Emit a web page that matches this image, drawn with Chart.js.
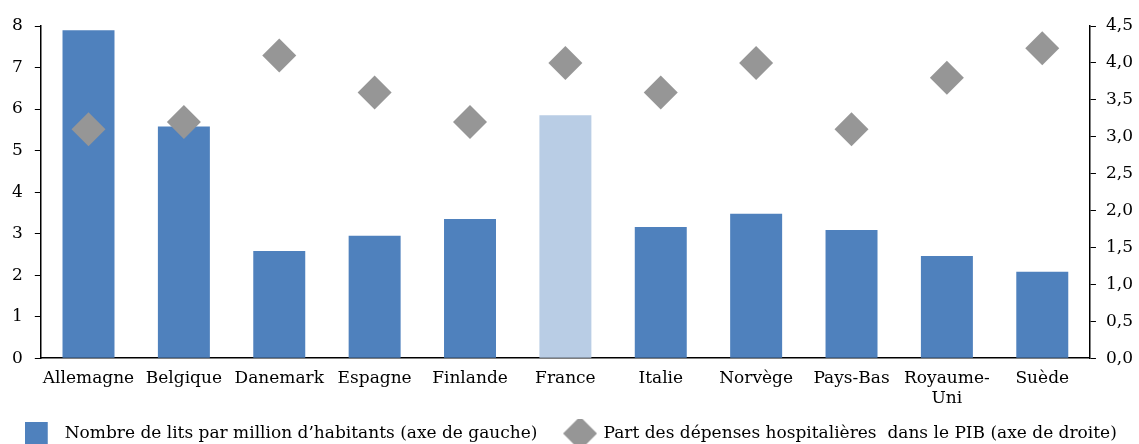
<!DOCTYPE html>
<html>
<head>
<meta charset="utf-8">
<script src="https://cdn.jsdelivr.net/npm/chart.js@4/dist/chart.umd.min.js"></script>
<style>
  html, body { margin: 0; padding: 0; background: #fff; overflow: hidden; }
  #wrap { width: 1139px; height: 452px; position: relative; }
</style>
</head>
<body>
<div id="wrap"><canvas id="c"></canvas></div>
<script>
const categories = ['Allemagne', 'Belgique', 'Danemark', 'Espagne', 'Finlande', 'France', 'Italie', 'Norvège', 'Pays-Bas', ['Royaume-', 'Uni'], 'Suède'];
const beds = [7.9, 5.58, 2.58, 2.95, 3.35, 5.85, 3.16, 3.48, 3.09, 2.46, 2.08];
const hospitalSpending = [3.1, 3.2, 4.1, 3.6, 3.2, 4.0, 3.6, 4.0, 3.1, 3.8, 4.2];
const leftTicks = [0, 8, 1];
const rightTicks = [0, 4.5, 0.5];
const seriesNames = ["Nombre de lits par million d\u2019habitants (axe de gauche)", "Part des dépenses hospitalières  dans le PIB (axe de droite)"];

const BLUE = '#4F81BD', LIGHT = '#B9CDE5', GREY = '#969696';
const FONT = 'DejaVu Serif';
const FS = 17;

function makeSquare(size, color) {
  const c = document.createElement('canvas');
  c.width = size + 10; c.height = size;
  const g = c.getContext('2d');
  g.fillStyle = color; g.fillRect(0, 0, size, size);
  return c;
}
function makeDiamond(size, color) {
  const c = document.createElement('canvas');
  c.width = size; c.height = size;
  const g = c.getContext('2d');
  g.fillStyle = color;
  g.beginPath();
  g.moveTo(size / 2, 0); g.lineTo(size, size / 2); g.lineTo(size / 2, size); g.lineTo(0, size / 2);
  g.closePath(); g.fill();
  return c;
}
const legendSquare = makeSquare(23, BLUE);
const legendDiamond = makeDiamond(34, GREY);

const barColors = categories.map(c => c === 'France' ? LIGHT : BLUE);

new Chart(document.getElementById('c'), {
  data: {
    labels: categories,
    datasets: [
      {
        type: 'line',
        label: seriesNames[1],
        data: hospitalSpending,
        yAxisID: 'y1',
        showLine: false,
        pointStyle: 'rectRot',
        pointRadius: 17,
        pointHoverRadius: 17,
        pointBackgroundColor: GREY,
        pointBorderColor: GREY,
        pointBorderWidth: 0,
        order: 0
      },
      {
        type: 'bar',
        label: seriesNames[0],
        data: beds,
        yAxisID: 'y',
        backgroundColor: barColors,
        barPercentage: 0.545,
        categoryPercentage: 1.0,
        order: 1
      }
    ]
  },
  options: {
    responsive: true,
    maintainAspectRatio: false,
    animation: false,
    layout: { padding: { top: 26, left: 0, right: -4, bottom: 0 } },
    plugins: {
      tooltip: { enabled: false },
      legend: {
        position: 'bottom',
        labels: {
          font: { family: FONT, size: FS },
          color: '#000',
          usePointStyle: true,
          pointStyleWidth: 30,
          padding: 6,
          generateLabels: () => [
            { text: seriesNames[0] + '    ', pointStyle: legendSquare, fillStyle: BLUE, strokeStyle: BLUE, lineWidth: 0, datasetIndex: 1 },
            { text: seriesNames[1], pointStyle: legendDiamond, fillStyle: GREY, strokeStyle: GREY, lineWidth: 0, datasetIndex: 0 }
          ]
        }
      }
    },
    scales: {
      x: {
        grid: { display: true, drawOnChartArea: false, drawTicks: false },
        border: { display: true, color: '#000', width: 1.5 },
        ticks: { font: { family: FONT, size: FS }, color: '#000', padding: 10, maxRotation: 0, autoSkip: false }
      },
      y: {
        position: 'left',
        min: leftTicks[0], max: leftTicks[1],
        ticks: { stepSize: leftTicks[2], font: { family: FONT, size: FS }, color: '#000', padding: 12 },
        grid: { drawOnChartArea: false, drawTicks: true, tickLength: 6, color: '#000' },
        border: { display: true, color: '#000', width: 1.5 }
      },
      y1: {
        position: 'right',
        min: rightTicks[0], max: rightTicks[1],
        ticks: {
          stepSize: rightTicks[2], font: { family: FONT, size: FS }, color: '#000', padding: 10,
          callback: v => v.toFixed(1).replace('.', ',')
        },
        grid: { drawOnChartArea: false, drawTicks: true, tickLength: 6, color: '#000' },
        border: { display: true, color: '#000', width: 1.5 }
      }
    }
  }
});
</script>
</body>
</html>
